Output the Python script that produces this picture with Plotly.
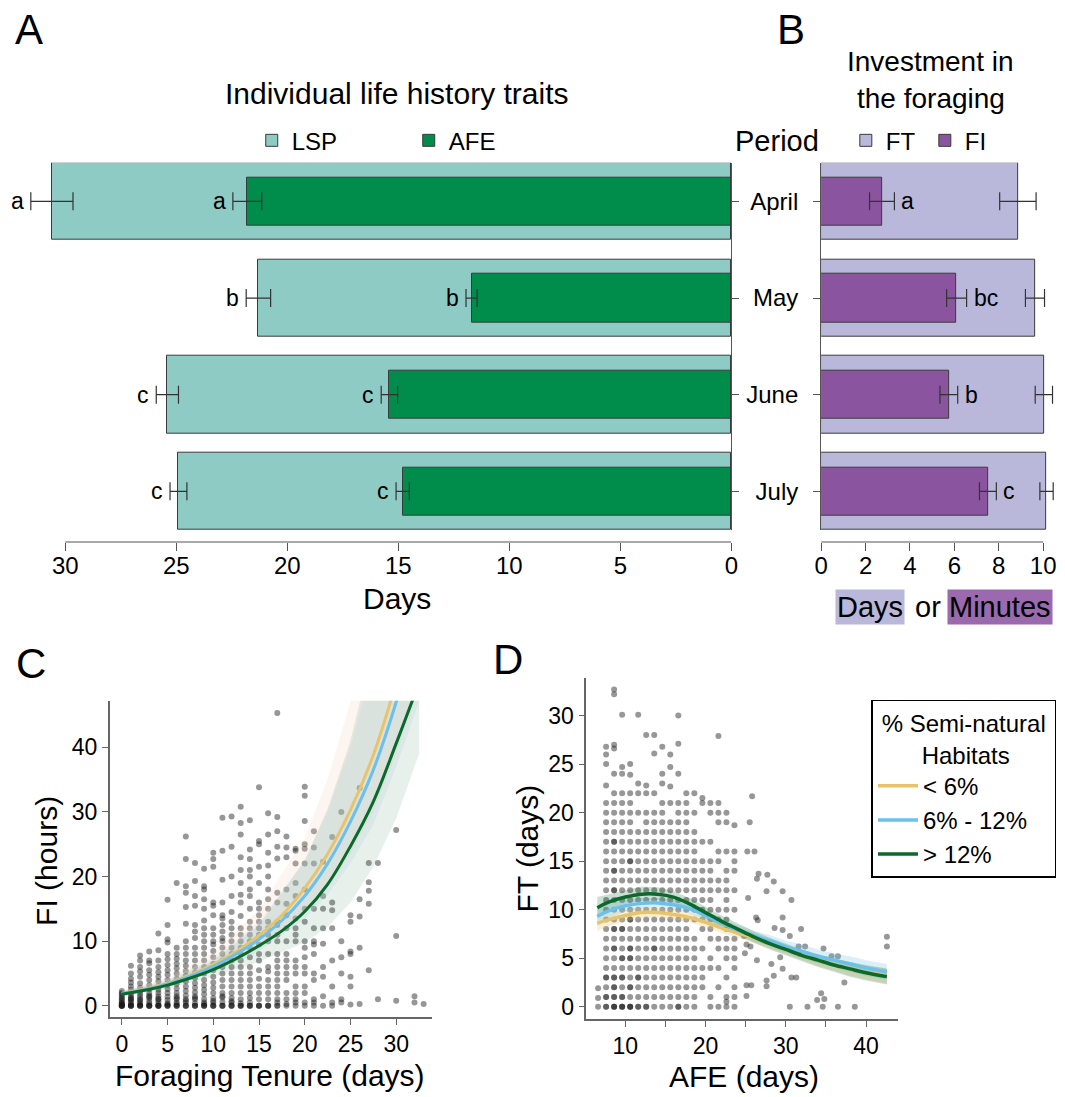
import plotly.graph_objects as go

W, H = 1065, 1097
FONT = "Liberation Sans, Arial, sans-serif"

# ---------------- Panel A / B data ----------------
months = ["April", "May", "June", "July"]
lsp = [30.6, 21.3, 25.4, 24.9]
lsp_err = [0.95, 0.55, 0.5, 0.38]
afe = [21.8, 11.7, 15.4, 14.8]
afe_err = [0.65, 0.25, 0.37, 0.3]
lsp_letters = ["a", "b", "c", "c"]
afe_letters = ["a", "b", "c", "c"]

ft = [8.86, 9.63, 10.03, 10.15]
ft_err = [0.82, 0.43, 0.39, 0.3]
fi = [2.74, 6.10, 5.75, 7.51]
fi_err = [0.56, 0.45, 0.40, 0.38]
fi_letters = ["a", "bc", "b", "c"]

a_ticks = [0, 5, 10, 15, 20, 25, 30]
b_ticks = [0, 2, 4, 6, 8, 10]

# ---------------- Panel C data (Foraging tenure vs FI hours) ----------------
c_tenure_cols = [0, 1, 2, 3, 4, 5, 6, 7, 8, 9, 10, 11, 12, 13, 14, 15, 16, 17,
                 18, 19, 20, 21, 22, 23, 24, 25, 26, 27, 28, 30, 32, 33]
c_fi_cols = [
    [0, 0, 0, 0, 0.2, 0.3, 0.5, 0.8, 1, 1.2, 1.5, 1.8, 2, 2.3, 0, 0.4],
    [0, 0, 0, 0.2, 0.5, 0.8, 1, 1.3, 1.6, 2, 2.5, 3, 3.6, 4.2, 5, 6.2, 0, 1.1],
    [0, 0, 0, 0.3, 0.6, 1, 1.4, 1.8, 2.2, 2.8, 3.5, 4.5, 5.3, 6, 7, 7.8, 0.1, 0.9],
    [0, 0, 0, 0.4, 0.8, 1.2, 1.6, 2, 2.6, 3.2, 4, 4.8, 5.5, 6.6, 7, 8.4, 0, 1.4],
    [0, 0, 0, 0.3, 0.7, 1.1, 1.5, 2, 2.5, 3, 3.8, 4.5, 5.2, 6, 7, 8.6, 11.2, 0, 1],
    [0, 0, 0, 0.4, 0.9, 1.4, 2, 2.6, 3.3, 4, 4.8, 5.5, 6.3, 7.2, 8, 9.8, 10.3, 12.5, 16.4, 0.2],
    [0, 0, 0, 0.5, 1, 1.5, 2, 2.7, 3.4, 4.2, 5, 5.8, 6.5, 7.3, 8, 9, 19, 0.3, 1.2],
    [0, 0, 0, 0.5, 1, 1.6, 2.3, 3, 3.8, 4.6, 5.4, 6.2, 7, 8, 9, 10, 12.7, 15.3, 17.5, 18.5, 22.7, 26.2, 0.8],
    [0, 0, 0, 0.4, 1, 1.5, 2.1, 2.8, 3.5, 4.3, 5.1, 6, 7, 8, 9, 10.5, 11.5, 12.5, 15.5, 17, 19.3, 22.1, 1.2],
    [0, 0, 0, 0.5, 1, 1.8, 2.5, 3.2, 4, 5, 6, 7, 8, 9, 10, 11, 12, 13.2, 15, 16.5, 18, 18.5, 21.2, 0.3],
    [0, 0, 0, 0.5, 1.2, 2, 2.8, 3.6, 4.5, 5.5, 6.5, 7.5, 8.5, 9.5, 10, 11, 12, 14, 15.5, 16, 21.5, 22.7, 23.7, 0.8],
    [0, 0, 0, 0.6, 1.3, 2, 3, 4, 5, 6, 7, 8, 9, 10, 10.5, 11.5, 12.5, 13.5, 14, 16, 19.5, 24, 29.1, 1.5],
    [0, 0, 0, 0.5, 1.2, 2, 3, 4, 5, 6, 7, 8, 9, 10, 11, 12, 13, 14.5, 17, 20, 24.6, 29.3, 0.7],
    [0, 0, 0, 0.4, 1, 2, 3, 4, 5, 6, 7, 8, 9, 10, 11, 12, 13.9, 16, 17.2, 19, 21, 23, 26.5, 28.3, 30.8],
    [0, 0, 0, 0.5, 1.2, 2, 3, 4, 5, 6, 7.5, 9, 10, 11, 12, 13, 15, 17, 18, 20, 21, 22.7, 24.2, 28.7],
    [0, 0, 0, 1, 2, 3, 4.2, 5.5, 7, 8, 9.5, 11, 12, 13, 14, 15, 16, 19, 21.5, 25, 25.5, 33.8],
    [0, 0, 0, 1, 2, 3, 4, 5.3, 6, 8, 10, 11, 12, 13, 15, 16.5, 18, 20, 21.7, 23.7, 26.5, 29.8],
    [0, 0, 0.5, 1, 2, 3, 4, 5, 6, 7, 8, 10, 11, 12.5, 13, 16, 17.5, 22.8, 24.6, 27, 29.2, 45.3],
    [0, 0.3, 1, 2, 4, 5, 6, 7, 8, 10, 12, 14, 15.8, 18, 23, 24.5, 26.2],
    [0, 0.5, 1, 2, 3, 5, 6, 7, 10, 11, 12, 13.5, 17, 19, 22, 24, 24.3],
    [0, 0.5, 2, 3, 5, 6, 7.5, 9, 10, 13, 15, 18, 22, 24.3, 25, 28.6, 32.5, 33.9],
    [0, 0.5, 1, 4, 5, 8, 9.5, 10, 12, 15, 22, 24.5, 27],
    [0, 1.5, 4.5, 6, 9.6, 12, 15, 17, 22.3],
    [0, 0.5, 3, 7, 12, 14.8, 16, 26.1],
    [0.5, 1, 5, 7.5, 10, 30],
    [0.2, 3, 4.5, 8, 8.4, 13, 14],
    [0.3, 9, 13.8, 16.5, 33.7],
    [5.5, 15.8, 17.8, 19.1, 22.1],
    [1, 22.1],
    [0.8, 10.8, 27.2],
    [0.5, 1.5],
    [0.3],
]

# fitted curves, panel C
c_fit_x = [0, 2.5, 5, 7.5, 10, 12.5, 15, 17.5, 20, 22.5, 25, 27.5, 30, 32.5]
c_fit_low = [1.9, 2.6, 3.5, 4.8, 6.4, 8.4, 10.9, 14.0, 18.2, 23.5, 30.3, 38.8, 50.0, 63.0]
c_fit_mid = [1.9, 2.5, 3.4, 4.6, 6.1, 8.0, 10.3, 13.2, 17.0, 22.0, 28.5, 36.5, 47.0, 60.0]
c_fit_high = [1.8, 2.4, 3.2, 4.3, 5.6, 7.3, 9.3, 11.6, 14.6, 18.8, 24.7, 31.6, 40.6, 50.0]
c_band_x = [0, 5, 10, 15, 20, 22.5, 25, 27.5, 30, 32.5]
c_band_low_lo = [1.6, 3.0, 5.3, 8.8, 14.3, 18.3, 23.5, 30, 39, 49]
c_band_low_hi = [2.4, 4.3, 8.2, 14.8, 26, 35, 47, 62, 85, 110]
c_band_mid_lo = [1.6, 2.9, 5.1, 8.4, 13.5, 17.2, 22.0, 28.0, 37, 47]
c_band_mid_hi = [2.3, 4.0, 7.4, 13.0, 22.5, 30, 40, 53, 72, 95]
c_band_high_lo = [1.5, 2.7, 4.5, 6.8, 9.8, 12.2, 16.0, 21.5, 29.0, 39.0]
c_band_high_hi = [2.2, 3.9, 7.0, 12.5, 22.5, 30.5, 41.0, 55, 70, 85]

# ---------------- Panel D data (AFE vs FT days) ----------------
d_afe_cols = [6.6, 7.6, 8.6, 9.6, 10.6, 11.6, 12.6, 13.6, 14.6, 15.6, 16.6,
              17.6, 18.6, 19.6, 20.6, 21.6, 22.6, 23.6]
d_ft_cols = [
    [0, 0.9, 1.9],
    [0, 0, 1, 1, 2, 3, 3, 4, 5, 6, 7, 8, 9, 10, 11, 12, 13, 14, 15, 16, 17, 18, 19, 20, 21, 22.8, 25, 26, 26.8],
    [0, 0, 0, 1, 1, 2, 2, 3, 3, 4, 5, 6, 6, 7, 8, 8, 9, 10, 11, 12, 12, 13, 14, 14, 15, 16, 17, 17, 18, 19, 20, 21, 22, 24, 26.6, 27, 32.2, 32.7],
    [0, 0, 0, 1, 1, 2, 3, 3, 4, 5, 5, 6, 7, 8, 8, 9, 10, 11, 12, 13, 14, 15, 16, 17, 18, 19, 20, 21, 22, 24, 24.7, 30.1],
    [0, 0, 0, 1, 2, 2, 3, 4, 5, 5, 6, 6, 7, 8, 9, 9, 10, 11, 12, 13, 14, 15, 15, 16, 17, 18, 19, 20, 21, 22, 23.9, 25],
    [0, 0, 1, 2, 3, 3, 4, 5, 6, 7, 8, 9, 10, 11, 12, 13, 14, 15, 16, 17, 18, 20, 22, 23, 30.1],
    [0, 0, 1, 2, 3, 4, 5, 6, 7, 8, 9, 10, 11, 12, 13, 14, 15, 16, 17, 18, 19, 20, 22, 22.8, 28],
    [0, 1, 2, 3, 4, 5, 6, 6, 7, 8, 9, 10, 11, 12, 13, 14, 15, 16, 17, 18, 19, 20, 22, 26.1, 28],
    [0, 1, 2, 3, 4, 5, 6, 7, 8, 9, 10, 11, 12, 13, 14, 15, 16, 17, 18, 19, 20, 21, 23, 24, 26.8],
    [0, 1, 2, 3, 4, 5, 6, 7, 8, 9, 10, 11, 12, 13, 14, 15, 16, 17, 18, 19, 21, 22.7, 24.7, 26],
    [0, 0, 1, 2, 3, 4, 5, 6, 7, 8, 9, 10, 11, 12, 13, 14, 15, 16, 17, 18, 19, 20, 21, 24, 27.1, 30],
    [0, 1, 2, 3, 4, 5, 6, 7, 8, 9, 10, 11, 12, 13, 14, 15, 16, 17, 18, 19, 20, 21, 22],
    [0, 1, 2, 3, 4, 5, 6, 7, 9, 10, 11, 12, 13, 14, 15, 16, 17, 18, 20, 22],
    [2, 3, 4, 6, 8, 9, 10, 11, 12, 13, 14, 15, 17, 21, 21.5],
    [0, 1, 4, 5, 7, 8, 9, 10, 11, 12, 13, 14, 15, 17, 20, 21],
    [0, 2, 4, 6, 7, 9, 10, 12, 13, 15, 16, 19, 20, 21, 27.9],
    [0, 0.5, 1, 3, 5, 6, 7, 8, 9, 10, 11, 12, 13, 14, 16, 19, 20],
    [0, 1, 2, 4, 5, 6, 7, 8, 10, 12, 14, 15, 16, 18.7],
]
d_afe_sparse = [24.8, 25.1, 24.9, 25.6, 25.1, 25.7, 25.1, 25.5, 25.2, 26.1, 25.8, 25.3,
                26.6, 26.4, 27.7, 28.5, 27.6, 29.6, 30.7, 26.3, 26.5, 29.6, 28.6, 31.9,
                29.6, 30.5, 31.6, 32.4, 34.7, 35.7, 36.5, 42.6, 42.6, 26.4, 28.2, 29.3,
                29.6, 27.6, 27.6, 28.5, 30.7, 31.3, 37.3, 34.4, 34.8, 33.9, 30.5, 32.7,
                34.6, 36.5, 38.6]
d_ft_sparse = [7.3, 6.4, 5.5, 6.2, 2.2, 2.2, 1.1, 19.0, 16.0, 16.0, 21.7, 11.2,
               13.7, 13.2, 13.6, 12.9, 11.9, 11.9, 11.0, 9.2, 8.9, 9.2, 8.1, 8.0,
               7.9, 7.3, 6.2, 6.2, 6.0, 5.2, 5.2, 7.2, 6.2, 4.8, 4.4, 5.1,
               3.9, 2.7, 2.1, 3.2, 3.0, 3.0, 2.5, 1.4, 0.8, 0.7, 0, 0,
               0, 0, 0]

d_fit_x = [6.5, 8, 10, 12, 14, 16, 18, 20, 22, 24, 26, 28, 30, 32, 34, 36, 38, 40, 42.6]
d_fit_low = [8.6, 9.0, 9.4, 9.7, 9.7, 9.5, 9.2, 8.7, 8.1, 7.6, 7.1, 6.5, 5.9, 5.3, 4.8, 4.3, 3.9, 3.5, 3.2]
d_fit_mid = [9.3, 9.9, 10.4, 10.65, 10.7, 10.5, 10.1, 9.4, 8.6, 7.9, 7.3, 6.8, 6.2, 5.7, 5.2, 4.8, 4.4, 4.0, 3.6]
d_fit_high = [10.2, 10.8, 11.3, 11.6, 11.6, 11.3, 10.6, 9.7, 8.8, 8.0, 7.2, 6.5, 5.9, 5.3, 4.8, 4.3, 3.9, 3.5, 3.1]
d_band_low_lo = [7.8, 8.3, 8.8, 9.1, 9.2, 9.0, 8.7, 8.2, 7.6, 7.1, 6.6, 6.0, 5.4, 4.8, 4.2, 3.7, 3.2, 2.8, 2.4]
d_band_low_hi = [9.4, 9.7, 10.0, 10.3, 10.2, 10.0, 9.7, 9.2, 8.6, 8.1, 7.6, 7.0, 6.4, 5.9, 5.4, 4.9, 4.6, 4.2, 4.0]
d_band_mid_lo = [8.4, 9.2, 9.8, 10.1, 10.2, 10.0, 9.6, 8.9, 8.1, 7.4, 6.8, 6.2, 5.6, 5.0, 4.5, 4.1, 3.6, 3.2, 2.8]
d_band_mid_hi = [10.2, 10.6, 11.0, 11.2, 11.2, 11.0, 10.6, 9.9, 9.1, 8.4, 7.8, 7.4, 6.8, 6.4, 5.9, 5.5, 5.2, 4.8, 4.4]
d_band_high_lo = [9.3, 10.1, 10.6, 10.9, 11.0, 10.7, 10.0, 9.1, 8.2, 7.4, 6.6, 5.9, 5.3, 4.7, 4.1, 3.6, 3.1, 2.7, 2.3]
d_band_high_hi = [11.3, 11.6, 12.0, 12.4, 12.3, 11.9, 11.2, 10.3, 9.4, 8.6, 7.8, 7.1, 6.5, 5.9, 5.4, 5.0, 4.6, 4.3, 3.9]

habitat_names = ["&lt; 6%", "6% - 12%", "&gt; 12%"]

# ---------------- colours ----------------
C_LSP = "#8ECBC4"
C_AFE = "#008C4A"
C_FT = "#B9B8DA"
C_FI = "#8A559E"
C_GOLD = "#E7C46C"
C_BLUE = "#6CC0EA"
C_GREEN = "#0A6A2C"
EDGE = "#3a3a3a"
AX = "#555555"
DOT = "rgba(25,25,25,0.45)"

fig = go.Figure()

err_style = dict(type="data", color="#333333", thickness=1.2, width=9)

# Panel A bars
fig.add_trace(go.Bar(y=months, x=lsp, orientation="h", width=0.8, name="LSP",
                     marker=dict(color=C_LSP, line=dict(color=EDGE, width=1)),
                     error_x=dict(array=lsp_err, **err_style),
                     xaxis="x", yaxis="y", legend="legend2"))
fig.add_trace(go.Bar(y=months, x=afe, orientation="h", width=0.5, name="AFE",
                     marker=dict(color=C_AFE, line=dict(color=EDGE, width=1)),
                     error_x=dict(array=afe_err, **err_style),
                     xaxis="x", yaxis="y", legend="legend2"))
# Panel B bars
fig.add_trace(go.Bar(y=months, x=ft, orientation="h", width=0.8, name="FT",
                     marker=dict(color=C_FT, line=dict(color=EDGE, width=1)),
                     error_x=dict(array=ft_err, **err_style),
                     xaxis="x2", yaxis="y2", legend="legend3"))
fig.add_trace(go.Bar(y=months, x=fi, orientation="h", width=0.5, name="FI",
                     marker=dict(color=C_FI, line=dict(color=EDGE, width=1)),
                     error_x=dict(array=fi_err, **err_style),
                     xaxis="x2", yaxis="y2", legend="legend3"))

# Panel C scatter
c_x, c_y = [], []
for t, vals in zip(c_tenure_cols, c_fi_cols):
    for v in vals:
        c_x.append(t)
        c_y.append(v)
fig.add_trace(go.Scatter(x=c_x, y=c_y, mode="markers", showlegend=False,
                         marker=dict(size=6, color=DOT, line=dict(width=0)),
                         xaxis="x3", yaxis="y3"))


def add_band(xs, lo, hi, color, xa, ya):
    fig.add_trace(go.Scatter(x=xs, y=hi, mode="lines", line=dict(width=0), showlegend=False,
                             hoverinfo="skip", xaxis=xa, yaxis=ya))
    fig.add_trace(go.Scatter(x=xs, y=lo, mode="lines", line=dict(width=0), showlegend=False,
                             fill="tonexty", fillcolor=color, hoverinfo="skip", xaxis=xa, yaxis=ya))


add_band(c_band_x, c_band_low_lo, c_band_low_hi, "rgba(245,200,170,0.18)", "x3", "y3")
add_band(c_band_x, c_band_mid_lo, c_band_mid_hi, "rgba(200,225,240,0.25)", "x3", "y3")
add_band(c_band_x, c_band_high_lo, c_band_high_hi, "rgba(60,130,90,0.12)", "x3", "y3")
for ys, col in [(c_fit_low, C_GOLD), (c_fit_mid, C_BLUE), (c_fit_high, C_GREEN)]:
    fig.add_trace(go.Scatter(x=c_fit_x, y=ys, mode="lines", line=dict(color=col, width=3, shape="spline"),
                             showlegend=False, xaxis="x3", yaxis="y3"))

# Panel D scatter
d_x, d_y = [], []
for a, vals in zip(d_afe_cols, d_ft_cols):
    for v in vals:
        d_x.append(a)
        d_y.append(v)
d_x += d_afe_sparse
d_y += d_ft_sparse
fig.add_trace(go.Scatter(x=d_x, y=d_y, mode="markers", showlegend=False,
                         marker=dict(size=6, color=DOT, line=dict(width=0)),
                         xaxis="x4", yaxis="y4"))
add_band(d_fit_x, d_band_low_lo, d_band_low_hi, "rgba(232,196,106,0.28)", "x4", "y4")
add_band(d_fit_x, d_band_mid_lo, d_band_mid_hi, "rgba(110,193,232,0.25)", "x4", "y4")
add_band(d_fit_x, d_band_high_lo, d_band_high_hi, "rgba(20,110,50,0.22)", "x4", "y4")
for ys, col, nm in [(d_fit_low, C_GOLD, habitat_names[0]), (d_fit_mid, C_BLUE, habitat_names[1]),
                    (d_fit_high, C_GREEN, habitat_names[2])]:
    fig.add_trace(go.Scatter(x=d_fit_x, y=ys, mode="lines", name=nm,
                             line=dict(color=col, width=3.5, shape="spline"),
                             showlegend=True, legend="legend", xaxis="x4", yaxis="y4"))


def px_x(X):
    return X / W


def px_y(Y):
    return 1 - Y / H


tickfont_ab = dict(family=FONT, size=24, color="black")
tickfont_cd = dict(family=FONT, size=23, color="black")
x_axis_pos = px_y(543)
NB = "&nbsp;"

fig.update_layout(
    width=W, height=H, margin=dict(l=0, r=0, t=0, b=0),
    paper_bgcolor="white", plot_bgcolor="white",
    font=dict(family=FONT, color="black"),
    barmode="overlay", bargap=0,
    xaxis=dict(domain=[0, px_x(734)], range=[734 / 22.5, 0], anchor="free", position=x_axis_pos,
               showline=False, showgrid=False, zeroline=False, ticks="outside", ticklen=8,
               tickcolor=AX, tickwidth=1.2, tickvals=a_ticks, tickfont=tickfont_ab,
               ticklabelstandoff=-6),
    yaxis=dict(domain=[px_y(531), px_y(163)], anchor="x", side="right", type="category",
               categoryorder="array", categoryarray=months, range=[3.4, -0.4],
               showline=True, linecolor=AX, linewidth=1.2, ticks="outside", ticklen=7,
               tickcolor=AX, showticklabels=False, showgrid=False, zeroline=False),
    xaxis2=dict(domain=[px_x(825), 1.0], range=[0, 240 / 22.5], anchor="free", position=x_axis_pos,
                showline=False, showgrid=False, zeroline=False, ticks="outside", ticklen=8,
                tickcolor=AX, tickwidth=1.2, tickvals=b_ticks, tickfont=tickfont_ab,
                ticklabelstandoff=-6),
    yaxis2=dict(domain=[px_y(531), px_y(163)], anchor="x2", side="left", type="category",
                categoryorder="array", categoryarray=months, range=[3.4, -0.4],
                showline=True, linecolor=AX, linewidth=1.2, ticks="outside", ticklen=7,
                tickcolor=AX, tickfont=tickfont_ab, ticklabelstandoff=10,
                showgrid=False, zeroline=False),
    xaxis3=dict(domain=[px_x(104), px_x(431)], range=[-1.33, 33.95], anchor="y3",
                showline=True, linecolor="#666", linewidth=1.5, ticks="outside", ticklen=6,
                tickcolor="#666", tickvals=[0, 5, 10, 15, 20, 25, 30], tickfont=tickfont_cd,
                showgrid=False, zeroline=False),
    yaxis3=dict(domain=[px_y(1019), px_y(702)], range=[-1.75, 47.2], anchor="x3",
                showline=True, linecolor="#666", linewidth=1.5, ticks="outside", ticklen=6,
                tickcolor="#666", tickvals=[0, 10, 20, 30, 40], tickfont=tickfont_cd,
                showgrid=False, zeroline=False),
    xaxis4=dict(domain=[px_x(587), px_x(903)], range=[5.13, 44.0], anchor="y4",
                showline=True, linecolor="#666", linewidth=1.5, ticks="outside", ticklen=6,
                tickcolor="#666", tickvals=[10, 15, 20, 25, 30, 35, 40],
                ticktext=["10", "", "20", "", "30", "", "40"], tickfont=tickfont_cd,
                showgrid=False, zeroline=False),
    yaxis4=dict(domain=[px_y(1021), px_y(679)], range=[-1.28, 33.9], anchor="x4",
                showline=True, linecolor="#666", linewidth=1.5, ticks="outside", ticklen=6,
                tickcolor="#666", tickvals=[0, 5, 10, 15, 20, 25, 30], tickfont=tickfont_cd,
                showgrid=False, zeroline=False),
    legend=dict(x=px_x(876), y=px_y(701), xanchor="left", yanchor="top",
                bordercolor="black", borderwidth=1.5, bgcolor="white", traceorder="normal",
                font=dict(family=FONT, size=24, color="black"),
                title=dict(text=NB + "% Semi-natural" + NB + "<br>" + NB * 7 + "Habitats",
                           side="top", font=dict(family=FONT, size=24, color="black")),
                itemwidth=40, tracegroupgap=0),
    legend2=dict(orientation="h", x=px_x(248), y=px_y(141), xanchor="left", yanchor="middle",
                 bgcolor="rgba(0,0,0,0)", font=dict(family=FONT, size=24, color="black"),
                 entrywidth=112, entrywidthmode="pixels"),
    legend3=dict(orientation="h", x=px_x(850), y=px_y(141), xanchor="left", yanchor="middle",
                 bgcolor="rgba(0,0,0,0)", font=dict(family=FONT, size=24, color="black"),
                 entrywidth=34, entrywidthmode="pixels"),
)

# x axis lines spanning first to last tick (panel A and B)
fig.add_shape(type="line", xref="x", yref="paper", x0=a_ticks[-1], x1=a_ticks[0],
              y0=x_axis_pos, y1=x_axis_pos, line=dict(color=AX, width=1.2))
fig.add_shape(type="line", xref="x2", yref="paper", x0=b_ticks[0], x1=b_ticks[-1],
              y0=x_axis_pos, y1=x_axis_pos, line=dict(color=AX, width=1.2))

ann = []


def text(X, Y, s, size, **kw):
    d = dict(x=px_x(X), y=px_y(Y), xref="paper", yref="paper", text=s, showarrow=False,
             font=dict(family=FONT, size=size, color="black"), xanchor="center", yanchor="middle")
    d.update(kw)
    ann.append(d)


text(22, 30, "A", 42)
text(794, 30, "B", 42)
text(24, 665, "C", 42)
text(508, 661, "D", 42)
text(395, 94, "Individual life history traits", 30)
text(936, 62, "Investment in", 28, borderpad=0)
text(936, 99, "the foraging", 28, borderpad=0)
text(780, 141, "Period", 29)
text(395, 600, "Days", 30)
text(875, 608, "Days", 29, bgcolor=C_FT, borderpad=1)
text(933, 608, "or", 29)
text(1006, 608, "Minutes", 29, bgcolor="#9B6AAE", borderpad=1)
text(267, 1077, "Foraging Tenure (days)", 30)
text(40, 862, "FI (hours)", 30, textangle=-90)
text(747, 1078, "AFE (days)", 30)
text(527, 850, "FT (days)", 30, textangle=-90)

# significance letters
lf = dict(family=FONT, size=23, color="black")
for m, v, e, l in zip(months, lsp, lsp_err, lsp_letters):
    ann.append(dict(x=v + e, y=m, xref="x", yref="y", text=l, showarrow=False, xanchor="right",
                    xshift=-5, font=lf))
for m, v, e, l in zip(months, afe, afe_err, afe_letters):
    ann.append(dict(x=v + e, y=m, xref="x", yref="y", text=l, showarrow=False, xanchor="right",
                    xshift=-5, font=lf))
for m, v, e, l in zip(months, fi, fi_err, fi_letters):
    ann.append(dict(x=v + e, y=m, xref="x2", yref="y2", text=l, showarrow=False, xanchor="left",
                    xshift=5, font=lf))

fig.update_layout(annotations=ann)
fig.write_html("out.html", config={"displayModeBar": False},
               post_script="document.body.style.margin='0';document.body.style.overflow='hidden';")
